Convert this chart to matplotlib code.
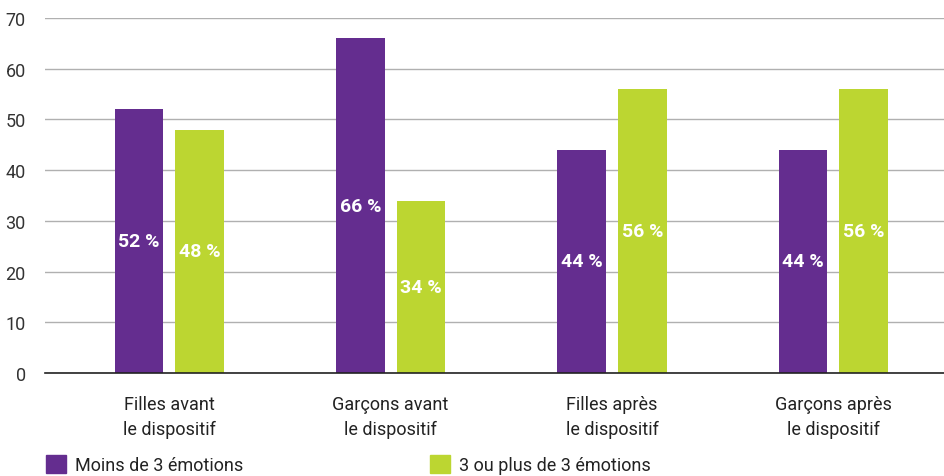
import matplotlib
matplotlib.use("Agg")
import matplotlib.pyplot as plt
import matplotlib.patches as mpatches
import numpy as np

plt.rcParams["font.family"] = ["Liberation Sans Narrow", "Roboto", "DejaVu Sans"]

categories = ["Filles avant\nle dispositif", "Garçons avant\nle dispositif",
              "Filles après\nle dispositif", "Garçons après\nle dispositif"]
moins_3 = [52, 66, 44, 44]
plus_3 = [48, 34, 56, 56]
series_names = ["Moins de 3 émotions", "3 ou plus de 3 émotions"]

PURPLE = "#642d8f"
GREEN = "#bcd631"

fig = plt.figure(figsize=(9.44, 4.77), dpi=100)
ax = fig.add_axes([0.048, 0.216, 0.952, 0.744])

x = np.arange(len(categories))
w = 0.22
off = 0.137
b1 = ax.bar(x - off, moins_3, w, color=PURPLE, zorder=3)
b2 = ax.bar(x + off, plus_3, w, color=GREEN, zorder=3)

for bars, vals in ((b1, moins_3), (b2, plus_3)):
    for bar, v in zip(bars, vals):
        ax.text(bar.get_x() + bar.get_width() / 2, v / 2, f"{v} %",
                ha="center", va="center", color="white",
                fontsize=14, fontweight="bold", zorder=4)

ax.set_xlim(-0.56, 3.50)
ax.set_ylim(0, 70)
ax.set_yticks(range(0, 71, 10))
ax.yaxis.grid(True, color="#b0b0b0", linewidth=1, zorder=0)
ax.set_xticks(x)
ax.set_xticklabels(categories, fontsize=13, color="#222222", linespacing=1.45)
ax.tick_params(axis="y", labelsize=13, labelcolor="#333333", length=0, pad=14)
ax.tick_params(axis="x", length=0, pad=16)
for s in ["top", "right", "left"]:
    ax.spines[s].set_visible(False)
ax.spines["bottom"].set_color("#222222")
ax.spines["bottom"].set_linewidth(1.2)
ax.spines["bottom"].set_zorder(5)

# legend: two entries at fixed positions
for name, col, xpos in ((series_names[0], PURPLE, 0.047), (series_names[1], GREEN, 0.454)):
    fig.legend(handles=[mpatches.Patch(color=col, label=name)],
               loc="lower left", bbox_to_anchor=(xpos, 0.0), frameon=False,
               borderaxespad=0.0, borderpad=0.1,
               fontsize=13, handlelength=1.1, handleheight=1.1, handletextpad=0.5,
               labelcolor="#222222")

fig.savefig("out.png", dpi=100)
